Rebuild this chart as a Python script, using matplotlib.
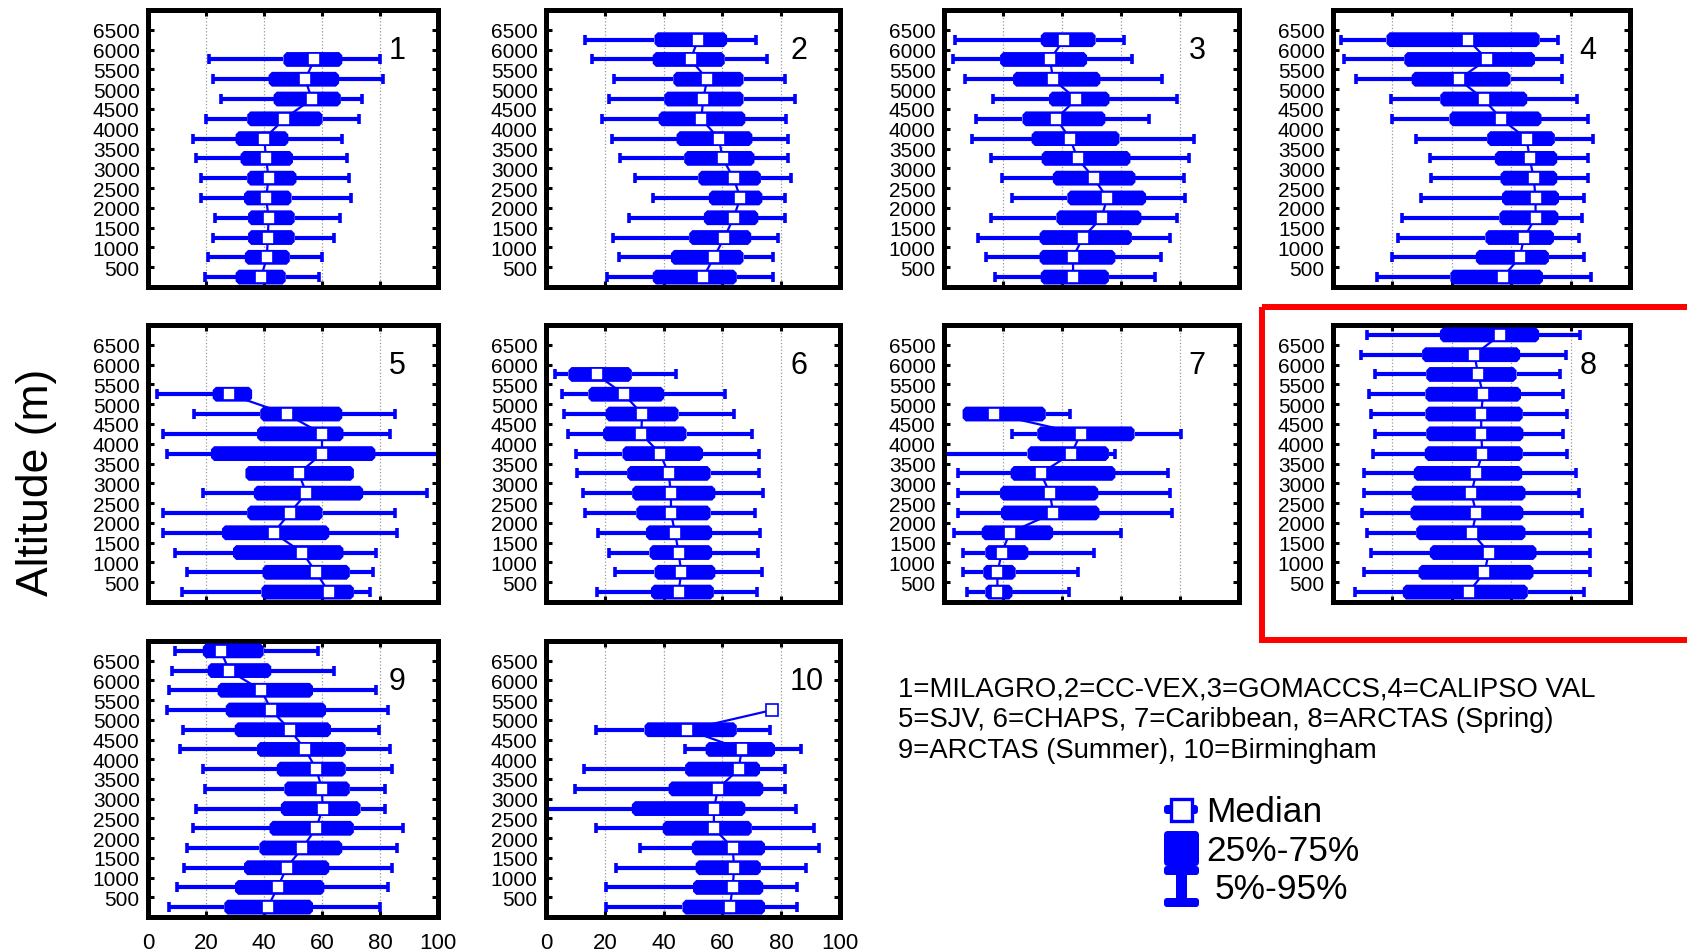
import matplotlib
matplotlib.use("Agg")
import matplotlib.pyplot as plt
from matplotlib.patches import Polygon, Rectangle, FancyBboxPatch

plt.rcParams['font.family'] = ['Liberation Sans', 'DejaVu Sans']

# ---------------- data (altitude bins from the ground up) ----------------
ALT = [250, 750, 1250, 1750, 2250, 2750, 3250, 3750, 4250, 4750, 5250, 5750, 6250, 6750]
Y_TICKS = [500, 1000, 1500, 2000, 2500, 3000, 3500, 4000, 4500, 5000, 5500, 6000, 6500]
X_TICKS = [0, 20, 40, 60, 80, 100]
PANEL_NAMES = ["1", "2", "3", "4", "5", "6", "7", "8", "9", "10"]
LEGEND_LINES = ["1=MILAGRO,2=CC-VEX,3=GOMACCS,4=CALIPSO VAL",
                "5=SJV, 6=CHAPS, 7=Caribbean, 8=ARCTAS (Spring)",
                "9=ARCTAS (Summer), 10=Birmingham"]

# Panel 1 MILAGRO
P1_P05 = [19.5, 20.6, 22.3, 23.2, 18.3, 18.3, 16.6, 15.5, 20.0, 25.1, 22.3, 21.2]
P1_P25 = [30.2, 33.4, 34.5, 34.5, 33.1, 34.2, 31.9, 30.2, 34.2, 43.3, 41.6, 46.7]
P1_MED = [39.0, 41.0, 41.3, 41.6, 40.7, 41.6, 40.7, 40.1, 47.0, 56.5, 54.2, 57.4]
P1_P75 = [47.5, 48.9, 50.6, 50.6, 49.5, 51.2, 50.0, 48.4, 60.2, 66.5, 65.9, 67.0]
P1_P95 = [58.8, 59.9, 64.2, 66.3, 69.9, 69.3, 68.7, 67.0, 72.7, 73.8, 81.2, 80.0]
# Panel 2 CC-VEX
P2_P05 = [20.8, 24.8, 22.8, 28.2, 36.3, 30.3, 25.1, 22.6, 18.9, 21.5, 23.0, 15.8, 13.3]
P2_P25 = [36.3, 42.5, 48.7, 53.7, 55.4, 51.8, 47.0, 44.4, 38.3, 40.2, 43.3, 36.3, 36.9]
P2_MED = [53.5, 57.1, 60.7, 63.8, 66.1, 63.8, 60.1, 58.8, 52.8, 53.5, 54.8, 49.2, 51.7]
P2_P75 = [64.9, 67.2, 69.8, 72.2, 73.6, 73.1, 70.9, 70.2, 67.8, 67.2, 67.2, 60.8, 61.6]
P2_P95 = [77.1, 77.1, 78.8, 81.2, 81.2, 83.5, 82.4, 82.4, 81.8, 84.6, 81.2, 75.1, 71.3]
# Panel 3 GOMACCS
P3_P05 = [17.3, 14.2, 11.4, 15.9, 23.0, 19.6, 15.9, 9.5, 11.0, 16.7, 7.2, 2.9, 3.8]
P3_P25 = [32.8, 32.4, 32.4, 38.1, 41.8, 36.9, 33.1, 29.7, 26.6, 35.6, 23.4, 19.0, 32.8]
P3_MED = [43.8, 43.7, 47.1, 53.4, 55.3, 50.8, 45.3, 42.7, 38.1, 44.8, 37.0, 35.9, 40.7]
P3_P75 = [55.9, 58.1, 63.7, 66.9, 68.5, 64.9, 63.2, 59.5, 54.7, 56.1, 53.0, 48.5, 51.4]
P3_P95 = [71.4, 73.6, 76.7, 78.9, 81.8, 81.2, 83.1, 84.6, 69.4, 78.9, 73.9, 63.7, 60.9]
# Panel 4 CALIPSO VAL
P4_P05 = [14.7, 19.7, 22.0, 23.1, 29.5, 32.9, 32.7, 28.0, 19.7, 19.5, 7.9, 3.6, 2.8]
P4_P25 = [39.5, 48.1, 51.3, 56.0, 56.9, 56.4, 54.5, 51.9, 39.2, 36.1, 26.5, 24.0, 18.0]
P4_MED = [57.2, 62.9, 64.3, 68.2, 68.2, 67.6, 66.2, 65.2, 56.6, 50.7, 42.3, 51.9, 45.4]
P4_P75 = [70.7, 72.7, 74.4, 75.9, 76.1, 75.5, 75.5, 74.7, 70.2, 65.4, 59.8, 68.0, 69.6]
P4_P95 = [86.8, 84.6, 82.9, 84.0, 84.6, 86.0, 85.7, 87.4, 85.7, 82.3, 77.2, 77.2, 75.9]
# Panel 5 SJV
P5_P05 = [11.6, 13.3, 9.3, 5.3, 5.3, 18.9, None, 6.7, 5.1, 15.7, 3.1]
P5_P25 = [39.1, 39.5, 29.3, 25.5, 34.2, 36.5, 33.6, 21.7, 37.6, 38.7, 22.3]
P5_MED = [62.3, 58.0, 53.2, 43.3, 48.9, 54.6, 52.0, 60.0, 60.0, 47.8, 28.0]
P5_P75 = [71.0, 69.6, 67.4, 62.5, 60.2, 74.2, 71.0, 78.4, 67.4, 67.0, 35.9]
P5_P95 = [76.7, 77.6, 78.7, 85.7, 85.2, 96.1, None, 100.0, 83.5, 85.2, None]
# Panel 6 CHAPS
P6_P05 = [17.5, 23.4, 21.5, 17.8, 13.3, 12.7, 10.4, 10.2, 7.4, 6.0, 5.4, 2.9]
P6_P25 = [35.7, 36.9, 35.2, 34.0, 30.7, 29.3, 27.6, 26.0, 19.4, 20.3, 14.4, 7.6]
P6_MED = [45.1, 46.0, 45.1, 43.9, 42.5, 42.5, 41.7, 38.8, 32.4, 32.7, 26.5, 17.2]
P6_P75 = [57.1, 57.6, 56.5, 56.5, 56.0, 57.6, 56.0, 53.4, 47.8, 45.1, 40.2, 29.2]
P6_P95 = [71.7, 73.4, 72.2, 72.8, 71.1, 73.9, 72.5, 72.5, 70.2, 63.8, 60.8, 44.2]
# Panel 7 Caribbean
P7_P05 = [7.8, 6.5, 6.3, 3.5, 4.6, 4.6, 4.6, 0.5, 23.0, None]
P7_P25 = [14.0, 13.3, 14.0, 12.8, 19.3, 19.0, 22.6, 28.3, 31.6, 6.3]
P7_MED = [18.1, 18.1, 19.6, 22.3, 37.0, 35.9, 32.8, 43.2, 46.3, 17.0]
P7_P75 = [23.2, 24.3, 28.6, 37.0, 52.7, 52.3, 58.1, 55.9, 64.6, 34.5]
P7_P95 = [42.3, 45.4, 51.0, 60.0, 77.3, 76.5, 75.9, 58.1, 80.4, 42.6]
# Panel 8 ARCTAS (Spring)
P8_P05 = [7.5, 10.6, 12.9, 11.5, 9.8, 10.4, 10.6, 13.6, 14.0, 12.9, 12.1, 14.0, 9.5, 11.3]
P8_P25 = [23.5, 28.8, 32.6, 28.0, 26.1, 26.5, 27.2, 30.9, 31.4, 31.1, 31.1, 31.4, 30.0, 36.0]
P8_MED = [45.7, 51.0, 52.5, 46.8, 48.2, 46.6, 48.2, 50.3, 49.9, 49.9, 50.5, 48.9, 47.6, 56.3]
P8_P75 = [65.6, 67.5, 68.5, 64.8, 64.1, 64.8, 63.7, 63.9, 64.1, 63.9, 63.3, 61.8, 63.0, 69.4]
P8_P95 = [84.6, 86.4, 86.4, 86.4, 83.8, 82.7, 81.9, 78.7, 77.3, 78.7, 77.3, 76.4, 78.5, 83.0]
# Panel 9 ARCTAS (Summer)
P9_P05 = [7.4, 10.1, 12.3, 13.3, 15.5, 16.6, 19.5, 18.9, 11.0, 12.1, 6.5, 7.2, 8.2, 9.3]
P9_P25 = [26.3, 30.0, 33.1, 38.4, 41.9, 45.8, 47.0, 44.4, 37.6, 29.9, 26.8, 24.0, 20.6, 18.9]
P9_MED = [41.3, 44.7, 47.8, 53.2, 58.0, 60.2, 60.0, 58.0, 54.2, 48.9, 42.5, 39.1, 28.0, 25.1]
P9_P75 = [56.9, 60.8, 62.5, 67.0, 71.0, 73.3, 69.6, 68.2, 68.2, 63.1, 61.4, 56.9, 42.5, 39.9]
P9_P95 = [80.1, 82.9, 84.0, 85.7, 87.8, 81.8, 81.8, 84.0, 83.5, 79.5, 82.9, 78.7, 64.2, 58.5]
# Panel 10 Birmingham
P10_P05 = [20.3, 20.3, 23.9, 32.0, 17.0, 0.5, 9.9, 13.0, 47.3, 17.0, None]
P10_P25 = [46.4, 50.0, 50.9, 49.6, 39.7, 29.2, 41.7, 47.3, 54.3, 33.5, None]
P10_MED = [62.5, 63.5, 64.0, 63.5, 57.1, 57.1, 58.5, 65.5, 66.6, 48.1, 77.0]
P10_P75 = [74.5, 73.9, 73.1, 74.5, 70.0, 67.8, 73.9, 72.8, 77.9, 64.9, None]
P10_P95 = [85.5, 85.5, 88.5, 93.0, 91.3, 85.2, 81.2, 81.2, 86.9, 76.2, None]

PANELS = [
    (P1_P05, P1_P25, P1_MED, P1_P75, P1_P95),
    (P2_P05, P2_P25, P2_MED, P2_P75, P2_P95),
    (P3_P05, P3_P25, P3_MED, P3_P75, P3_P95),
    (P4_P05, P4_P25, P4_MED, P4_P75, P4_P95),
    (P5_P05, P5_P25, P5_MED, P5_P75, P5_P95),
    (P6_P05, P6_P25, P6_MED, P6_P75, P6_P95),
    (P7_P05, P7_P25, P7_MED, P7_P75, P7_P95),
    (P8_P05, P8_P25, P8_MED, P8_P75, P8_P95),
    (P9_P05, P9_P25, P9_MED, P9_P75, P9_P95),
    (P10_P05, P10_P25, P10_MED, P10_P75, P10_P95),
]

# ---------------- layout ----------------
W, H = 1687, 953
DPI = 100
BLUE = '#0000FF'
COL_L = [148, 546, 944, 1333]
COL_R = [438, 840, 1239, 1630]
ROW_T = [11, 326, 642]
ROW_B = [288, 603, 918]
GRID_POS = [(0, 0), (0, 1), (0, 2), (0, 3), (1, 0), (1, 1), (1, 2), (1, 3), (2, 0), (2, 1)]
XMAX, YMAX = 100, 7000

fig = plt.figure(figsize=(W / DPI, H / DPI), dpi=DPI)
fig.patch.set_facecolor('white')

for idx, (r, c) in enumerate(GRID_POS):
    l, rr, t, b = COL_L[c], COL_R[c], ROW_T[r], ROW_B[r]
    ax = fig.add_axes([l / W, 1 - b / H, (rr - l) / W, (b - t) / H])
    axw, axh = rr - l, b - t
    px_x = XMAX / axw      # data units per pixel
    px_y = YMAX / axh
    half_h = 7.4 * px_y
    bev_x, bev_y = 3.2 * px_x, 3.2 * px_y

    p05, p25, med, p75, p95 = PANELS[idx]
    n = len(med)
    alts = ALT[:n]
    for i in range(n):
        y = alts[i]
        q1, q3 = p25[i], p75[i]
        if q1 is None:
            continue
        lo = p05[i] if p05[i] is not None else q1
        hi = p95[i] if p95[i] is not None else q3
        # whiskers
        if p05[i] is not None:
            ax.plot([lo, q1], [y, y], color=BLUE, lw=3.0, solid_capstyle='butt', zorder=2)
            ax.plot([lo], [y], marker='|', ms=7.5, mew=2.6, color=BLUE, zorder=2)
        if p95[i] is not None:
            ax.plot([q3, hi], [y, y], color=BLUE, lw=3.0, solid_capstyle='butt', zorder=2)
            ax.plot([hi], [y], marker='|', ms=7.5, mew=2.6, color=BLUE, zorder=2)
        # box with bevelled corners
        pts = [(q1 + bev_x, y - half_h), (q3 - bev_x, y - half_h), (q3, y - half_h + bev_y),
               (q3, y + half_h - bev_y), (q3 - bev_x, y + half_h), (q1 + bev_x, y + half_h),
               (q1, y + half_h - bev_y), (q1, y - half_h + bev_y)]
        ax.add_patch(Polygon(pts, closed=True, facecolor=BLUE, edgecolor='none', zorder=3))
    # median line + markers
    ax.plot(med, alts, color=BLUE, lw=1.6, zorder=4)
    ax.plot(med, alts, linestyle='none', marker='s', ms=8.0, mfc='white', mec=BLUE, mew=1.2, zorder=5)

    ax.set_xlim(0, XMAX)
    ax.set_ylim(0, YMAX)
    ax.set_xticks(X_TICKS)
    ax.set_yticks(Y_TICKS)
    ax.set_yticklabels([str(v) for v in Y_TICKS])
    ax.grid(axis='x', linestyle=':', color='#999999', lw=0.9)
    ax.set_axisbelow(True)
    for s in ax.spines.values():
        s.set_linewidth(3.6)
        s.set_color('black')
    bottom_labels = (r == 2)
    ax.tick_params(axis='both', which='both', direction='in', length=4.5, width=2.2,
                   top=True, right=True, bottom=True, left=True, color='black')
    ax.tick_params(axis='y', labelsize=15, pad=6)
    ax.tick_params(axis='x', labelsize=16, pad=11, labelbottom=bottom_labels)
    ax.text(0.83, 0.855, PANEL_NAMES[idx], transform=ax.transAxes, ha='left', va='center',
            fontsize=22, color='black')

# ---------------- overlay: labels, legend, highlight ----------------
ov = fig.add_axes([0, 0, 1, 1], zorder=10)
ov.set_xlim(0, W)
ov.set_ylim(H, 0)
ov.axis('off')
ov.patch.set_alpha(0)

ov.text(37, 482, "Altitude (m)", rotation=90, ha='center', va='center', fontsize=32)

for k, line in enumerate(LEGEND_LINES):
    ov.text(898, 690 + 30.5 * k, line, ha='left', va='center', fontsize=19.8)

# red highlight around panel 8
ov.add_patch(Rectangle((1262, 308), 520, 333, fill=False, edgecolor='#FF0000', lw=4.3, clip_on=False))

# legend icon (vertical box glyph)
ov.add_patch(FancyBboxPatch((1164, 806), 34, 9, boxstyle="round,pad=0,rounding_size=3",
                            facecolor=BLUE, edgecolor='none'))
ov.add_patch(Rectangle((1171, 800), 21, 22, facecolor='white', edgecolor=BLUE, lw=2.4))
ov.add_patch(FancyBboxPatch((1164, 832), 35, 35, boxstyle="round,pad=0,rounding_size=4",
                            facecolor=BLUE, edgecolor='none'))
ov.add_patch(FancyBboxPatch((1164, 867), 35, 9, boxstyle="round,pad=0,rounding_size=3",
                            facecolor=BLUE, edgecolor='none'))
ov.add_patch(Rectangle((1176, 870), 11, 34, facecolor=BLUE, edgecolor='none'))
ov.add_patch(FancyBboxPatch((1164, 899), 35, 9, boxstyle="round,pad=0,rounding_size=3",
                            facecolor=BLUE, edgecolor='none'))
ov.text(1206, 813, "Median", ha='left', va='center', fontsize=25.5)
ov.text(1206, 852, "25%-75%", ha='left', va='center', fontsize=25.5)
ov.text(1215, 890, "5%-95%", ha='left', va='center', fontsize=25.5)

fig.savefig("out.png", dpi=DPI, facecolor='white')
